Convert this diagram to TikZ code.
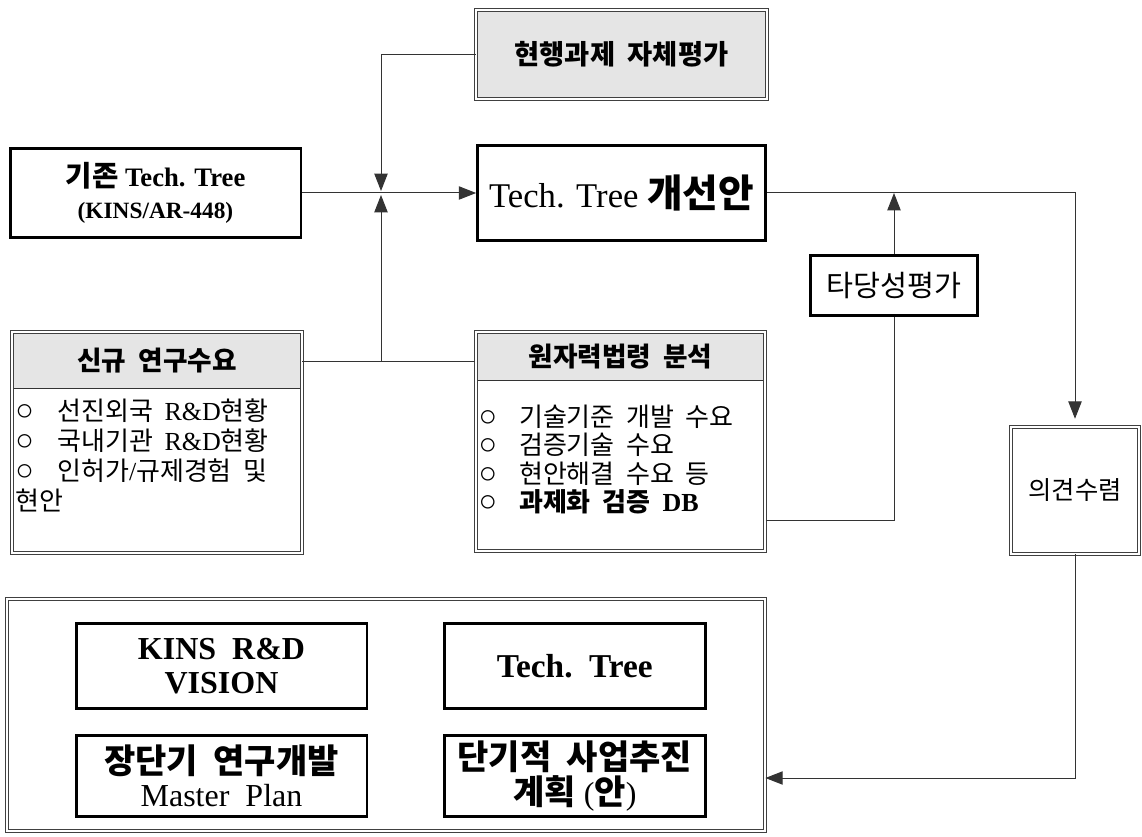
\documentclass[tikz,border=0pt]{standalone}
\usepackage{fontspec}
\setmainfont{Liberation Serif}
\newfontfamily\kr[WordSpace=2]{Noto Sans CJK KR}
\newcommand*{\bul}{\textrm{\fontsize{23}{22}\selectfont ○}}
\usetikzlibrary{positioning}
\usetikzlibrary{arrows.meta}

\begin{document}
\begin{tikzpicture}[x=0.75pt,y=-0.75pt,
    wire/.style={draw=black!80, line width=0.75pt},
    arr/.style={wire, -{Triangle[length=13pt,width=10pt]}},
    thickbox/.style={draw, line width=2pt, align=center},
    dbox/.style={draw=black!75, line width=0.6pt, double=white, double distance=1.8pt, align=center},
    headbox/.style={fill=gray!20, inner sep=0pt, font=\kr\bfseries\fontsize{20}{24}\selectfont},
    listtext/.style={align=left, inner xsep=1pt, font=\kr\fontsize{19.5}{22.5}\selectfont}
]
\useasboundingbox (0,0) rectangle (1142,837);

% Evaluation of current projects
\node[dbox, fill=gray!20,
    minimum width=218pt,
    minimum height=67pt,
    font=\kr\bfseries\fontsize{20.5}{24}\selectfont
] (cur) at (621.5,54.5) {현행과제 자체평가};

% Improved tree
\node[thickbox,
    minimum width=216pt,
    minimum height=71.5pt,
    font=\fontsize{26}{30}\selectfont
] (tnew) at (621.5,193) {Tech. Tree {\kr\bfseries\fontsize{29}{30}\selectfont 개선안}};

\node[thickbox,
    minimum width=218pt,
    minimum height=67pt,
    font=\bfseries\fontsize{20}{24}\selectfont
] (old) at (155.5,193) {{\kr\fontsize{21.5}{24}\selectfont 기존} Tech. Tree\\{\fontsize{17.5}{24}\selectfont (KINS/AR-448)}};

% New research needs
\node[dbox, minimum width=217.5pt, minimum height=166pt] (need) at (157,442.5) {};
\node[headbox, anchor=north,
    minimum width=214.5pt,
    minimum height=41pt
] (needhead) at ([yshift=-1.5pt]need.north) {신규 연구수요};
\draw[wire] (needhead.south west) -- (needhead.south east);
\node[listtext, anchor=north west, inner ysep=7.5pt] (needlist) at (needhead.south west)
    {\bul\hspace{0.9em}선진외국 \textrm{R\&D}현황\\
     \bul\hspace{0.9em}국내기관 \textrm{R\&D}현황\\
     \bul\hspace{0.9em}인허가\textrm{/}규제경험 및\\
     현안};

% Nuclear law analysis
\node[dbox, minimum width=217pt, minimum height=164pt] (law) at (620.5,441.5) {};
\node[headbox, anchor=north,
    minimum width=214pt,
    minimum height=34.5pt
] (lawhead) at ([yshift=-1.5pt]law.north) {원자력법령 분석};
\draw[wire] (lawhead.south west) -- (lawhead.south east);
\node[listtext, anchor=north west, inner xsep=0.5pt, inner ysep=18pt,
    font=\kr\fontsize{19.5}{21.4}\selectfont] (lawlist) at (lawhead.south west)
    {\bul\hspace{0.85em}기술기준 개발 수요\\
     \bul\hspace{0.85em}검증기술 수요\\
     \bul\hspace{0.85em}현안해결 수요 등\\
     \bul\hspace{0.85em}{\bfseries 과제화 검증 \textrm{DB}}};

\node[thickbox,
    minimum width=125.5pt,
    minimum height=45pt,
    font=\kr\fontsize{22}{26}\selectfont
] (val) at (894,285.5) {타당성평가};

\node[dbox,
    minimum width=96pt,
    minimum height=95pt,
    font=\kr\fontsize{19}{22}\selectfont
] (cnt) at (1075,490.5) {의견수렴};

% Results
\node[dbox, minimum width=568.5pt, minimum height=174pt] (bot) at (386,715) {};
\node[thickbox,
    minimum width=218pt,
    minimum height=64pt,
    font=\bfseries\fontsize{24}{26}\selectfont
] (vis) at (221.5,666) {KINS\ \ R\&D\\VISION};
\node[thickbox,
    minimum width=196pt,
    minimum height=64pt,
    right=56pt of vis,
    font=\bfseries\fontsize{25}{26}\selectfont
] (tree) {Tech.\ \ Tree};
\node[thickbox,
    minimum width=218pt,
    minimum height=61pt,
    below=18pt of vis,
    font=\fontsize{24}{25}\selectfont
] (plan) {{\kr\bfseries\fontsize{25.5}{25}\selectfont 장단기 연구개발}\\Master\ \ Plan};
\node[thickbox,
    minimum width=196pt,
    minimum height=61pt,
    below=18pt of tree,
    font=\fontsize{24}{26}\selectfont
] (act) {{\kr\bfseries\fontsize{25.5}{26}\selectfont 단기적 사업추진}\\{\kr\bfseries\fontsize{25.5}{26}\selectfont 계획} ({\kr\bfseries\fontsize{25.5}{26}\selectfont 안})};

% connectors
\coordinate (jn) at (381,193);
\coordinate (jd) at (381,362);
\draw[arr] (old.east) -- (tnew.west);
\draw[arr, shorten >=1.5pt] (cur.west) -| (jn);
\draw[wire] (need.east |- jd) -- (law.west |- jd);
\draw[arr, shorten >=1.5pt] (jd) -- (jn);
\draw[arr, shorten >=6pt] (tnew.east) -| (cnt.north);
\draw[wire] ([yshift=-59.6pt]law.east) -| (val.south);
\draw[arr] (val.north) -- (val.north |- tnew.east);
\draw[arr] (cnt.south) |- ([yshift=-47.25pt]bot.east);
\end{tikzpicture}
\end{document}
